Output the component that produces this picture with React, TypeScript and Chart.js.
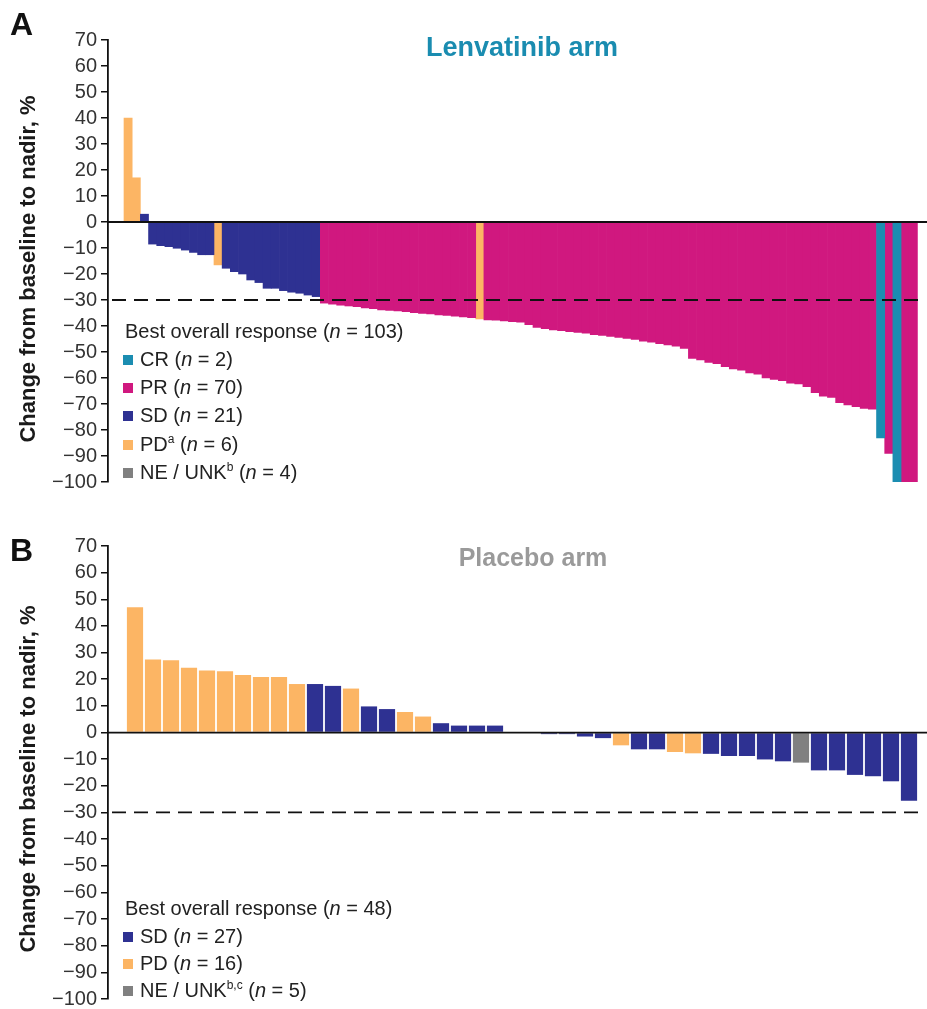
import React, { useEffect, useRef } from 'react';
import { Chart, registerables } from 'chart.js';

Chart.register(...registerables);

const FONT = "'Liberation Sans', Arial, Helvetica, sans-serif";

// ---------- shared ----------
const yTicks = [70, 60, 50, 40, 30, 20, 10, 0, -10, -20, -30, -40, -50, -60, -70, -80, -90, -100];
const yAxisTitle = 'Change from baseline to nadir, %';
const responseThreshold = -30;
const responseCodes = ['CR', 'PR', 'SD', 'PD', 'NE'];
const responseNames = ['CR', 'PR', 'SD', 'PD', 'NE / UNK'];
const responseColors = ['#1b8db1', '#d0187f', '#2e3192', '#fcb564', '#808080'];

// ---------- Panel A: Lenvatinib arm ----------
const lenvResponse = [
  'PD', 'PD', 'SD', 'SD', 'SD', 'SD', 'SD', 'SD', 'SD', 'SD', 'SD', 'PD',
  'SD', 'SD', 'SD', 'SD', 'SD', 'SD', 'SD', 'SD', 'SD', 'SD', 'SD', 'SD',
  'PR', 'PR', 'PR', 'PR', 'PR', 'PR', 'PR', 'PR', 'PR', 'PR', 'PR', 'PR', 'PR', 'PR', 'PR', 'PR', 'PR', 'PR', 'PR',
  'PD',
  'PR', 'PR', 'PR', 'PR', 'PR', 'PR', 'PR', 'PR', 'PR', 'PR', 'PR', 'PR', 'PR', 'PR', 'PR', 'PR', 'PR', 'PR', 'PR', 'PR', 'PR', 'PR', 'PR', 'PR', 'PR',
  'PR', 'PR', 'PR', 'PR', 'PR', 'PR', 'PR', 'PR', 'PR', 'PR', 'PR', 'PR', 'PR', 'PR', 'PR', 'PR', 'PR', 'PR', 'PR', 'PR', 'PR', 'PR', 'PR',
  'CR', 'PR', 'CR', 'PR', 'PR',
];
const lenvChange = [
  40, 17, 3, -8.5, -9.1, -9.5, -10.1, -10.8, -11.7, -12.6, -12.6, -16.5,
  -17.8, -19.1, -20, -22.3, -23.3, -25.5, -25.5, -26.4, -27, -27.4, -28.1, -28.7,
  -31.2, -31.6, -32, -32.3, -32.6, -33, -33.3, -33.8, -34, -34.2, -34.5, -34.9, -35.2, -35.4, -35.7, -35.9, -36.2, -36.5, -36.8,
  -37.3,
  -37.7, -37.8, -38, -38.3, -38.5, -39.5, -40.5, -41, -41.5, -41.8, -42.2, -42.5, -42.8, -43.3, -43.6, -44, -44.4, -44.8, -45.2, -45.8, -46.2, -46.8, -47.3, -47.8, -48.6,
  -52.5, -53, -54, -54.5, -55.6, -56.5, -57, -58, -58.5, -60, -60.5, -61, -62, -62.3, -63.3, -65.6, -67, -67.5, -69.5, -70.4, -71, -71.7, -72,
  -83, -89, -100, -100, -100,
];
const lenvLegendCodes = ['CR', 'PR', 'SD', 'PD', 'NE'];
const lenvLegendCounts = [2, 70, 21, 6, 4];
const lenvLegendNotes = ['', '', '', 'a', 'b'];
const lenvTotal = 103;

// ---------- Panel B: Placebo arm ----------
const placeboResponse = [
  'PD', 'PD', 'PD', 'PD', 'PD', 'PD', 'PD', 'PD', 'PD', 'PD',
  'SD', 'SD', 'PD', 'SD', 'SD', 'PD', 'PD',
  'SD', 'SD', 'SD', 'SD', 'SD', 'SD', 'SD', 'SD', 'SD', 'SD',
  'PD', 'SD', 'SD', 'PD', 'PD',
  'SD', 'SD', 'SD', 'SD', 'SD', 'NE',
  'SD', 'SD', 'SD', 'SD', 'SD', 'SD',
];
const placeboChange = [
  47, 27.4, 27.1, 24.3, 23.3, 23, 21.6, 20.8, 20.8, 18.2,
  18.2, 17.5, 16.5, 9.8, 8.8, 7.7, 6,
  3.5, 2.6, 2.6, 2.6, 0, 0, -0.6, -0.6, -1.5, -2.1,
  -4.8, -6.3, -6.3, -7.3, -7.8,
  -8, -8.8, -8.8, -10.1, -10.8, -11.3,
  -14.2, -14.2, -15.9, -16.4, -18.3, -25.6,
];
const placeboLegendCodes = ['SD', 'PD', 'NE'];
const placeboLegendCounts = [27, 16, 5];
const placeboLegendNotes = ['', '', 'b,c'];
const placeboTotal = 48;

// ---------- chart helpers ----------
const refLinesPlugin = {
  id: 'refLines',
  afterDatasetsDraw(chart: any) {
    const { ctx, chartArea, scales } = chart;
    const y = scales.y;
    ctx.save();
    ctx.strokeStyle = '#111';
    ctx.lineWidth = 1.8;
    const y0 = y.getPixelForValue(0);
    ctx.beginPath();
    ctx.moveTo(chartArea.left, y0);
    ctx.lineTo(chartArea.right, y0);
    ctx.stroke();
    const yd = y.getPixelForValue(responseThreshold);
    ctx.setLineDash([14, 8]);
    ctx.beginPath();
    ctx.moveTo(chartArea.left + 4, yd);
    ctx.lineTo(chartArea.right - 5, yd);
    ctx.stroke();
    ctx.restore();
  },
};

function buildDatasets(values: number[], responses: string[], barPct: number, inflate: any) {
  return responseCodes.map((code, k) => ({
    label: responseNames[k],
    data: values
      .map((v, i) => (responses[i] === code ? { x: i, y: v } : null))
      .filter((p) => p !== null),
    backgroundColor: responseColors[k],
    borderWidth: 0,
    grouped: false,
    barPercentage: barPct,
    categoryPercentage: 1,
    inflateAmount: inflate,
  }));
}

type PanelProps = {
  top: number;
  height: number;
  padTop: number;
  padBottom: number;
  values: number[];
  responses: string[];
  xMin: number;
  xMax: number;
  barPct: number;
  inflate: any;
};

function PanelChart(p: PanelProps) {
  const ref = useRef<HTMLCanvasElement | null>(null);
  useEffect(() => {
    if (!ref.current) return;
    const chart = new Chart(ref.current, {
      type: 'bar',
      data: { datasets: buildDatasets(p.values, p.responses, p.barPct, p.inflate) as any },
      options: {
        animation: false,
        responsive: false,
        maintainAspectRatio: false,
        devicePixelRatio: 1,
        layout: { padding: { top: p.padTop, bottom: p.padBottom, left: 0, right: 0 } },
        plugins: {
          legend: { display: false },
          tooltip: { enabled: false },
          title: { display: false },
        },
        scales: {
          x: {
            type: 'linear',
            min: p.xMin,
            max: p.xMax,
            offset: false,
            display: false,
            grid: { offset: false },
            ticks: { stepSize: 50 },
          },
          y: {
            type: 'linear',
            min: -100,
            max: 70,
            afterFit: (s: any) => {
              s.width = 108;
            },
            afterBuildTicks: (s: any) => {
              s.ticks = yTicks.map((v) => ({ value: v }));
            },
            ticks: {
              autoSkip: false,
              padding: 4,
              color: '#333',
              font: { family: FONT, size: 20, lineHeight: 0.6 },
              callback: (v: any) => String(v).replace('-', '\u2212'),
            },
            grid: {
              drawOnChartArea: false,
              drawTicks: true,
              tickLength: 7,
              color: '#111',
              lineWidth: 1.5,
            },
            border: { display: true, color: '#111', width: 1.8 },
            title: { display: false },
          },
        },
      } as any,
      plugins: [refLinesPlugin],
    });
    return () => chart.destroy();
  }, []);
  return (
    <canvas
      ref={ref}
      width={927}
      height={p.height}
      style={{ position: 'absolute', left: 0, top: p.top, width: 927, height: p.height }}
    />
  );
}

function Txt(props: { x: number; baseline: number; size: number; bold?: boolean; color?: string; center?: boolean; children: any }) {
  const top = props.baseline - 0.8465 * props.size;
  const style: any = {
    position: 'absolute',
    top,
    fontFamily: FONT,
    fontSize: props.size,
    lineHeight: props.size + 'px',
    fontWeight: props.bold ? 'bold' : 'normal',
    color: props.color || '#222',
    whiteSpace: 'nowrap',
  };
  if (props.center) {
    style.left = props.x - 300;
    style.width = 600;
    style.textAlign = 'center';
  } else {
    style.left = props.x;
  }
  return <div style={style}>{props.children}</div>;
}

function VerticalTitle(props: { cx: number; cy: number; text: string }) {
  return (
    <div
      style={{
        position: 'absolute',
        left: props.cx - 200,
        top: props.cy - 13,
        width: 400,
        height: 26,
        lineHeight: '26px',
        textAlign: 'center',
        fontFamily: FONT,
        fontSize: 22,
        fontWeight: 'bold',
        color: '#1a1a1a',
        whiteSpace: 'nowrap',
        transform: 'rotate(-90deg)',
        transformOrigin: '50% 50%',
      }}
    >
      {props.text}
    </div>
  );
}

function Legend(props: { baselines: number[]; total: number; codes: string[]; counts: number[]; notes: string[] }) {
  const b = props.baselines;
  return (
    <>
      <Txt x={125} baseline={b[0]} size={20}>
        Best overall response (<i>n</i> = {props.total})
      </Txt>
      {props.codes.map((code, k) => {
        const idx = responseCodes.indexOf(code);
        const base = b[k + 1];
        return (
          <React.Fragment key={code}>
            <div
              style={{
                position: 'absolute',
                left: 123,
                top: base - 11,
                width: 10,
                height: 10,
                background: responseColors[idx],
              }}
            />
            <Txt x={140} baseline={base} size={20}>
              {responseNames[idx]}
              {props.notes[k] ? (
                <span style={{ fontSize: 12, position: 'relative', top: -8 }}>{props.notes[k]}</span>
              ) : null}{' '}
              (<i>n</i> = {props.counts[k]})
            </Txt>
          </React.Fragment>
        );
      })}
    </>
  );
}

export default function App() {
  return (
    <div
      style={{
        position: 'absolute',
        left: 0,
        top: 0,
        width: 927,
        height: 1009,
        overflow: 'hidden',
        background: '#fff',
      }}
    >
      <PanelChart
        top={0}
        height={504}
        padTop={40}
        padBottom={22}
        values={lenvChange}
        responses={lenvResponse}
        xMin={-2.456}
        xMax={97.67}
        barPct={1}
        inflate={'auto'}
      />
      <PanelChart
        top={504}
        height={505}
        padTop={42}
        padBottom={9}
        values={placeboChange}
        responses={placeboResponse}
        xMin={-1.5}
        xMax={44}
        barPct={0.9}
        inflate={0}
      />
      <VerticalTitle cx={28} cy={269} text={yAxisTitle} />
      <VerticalTitle cx={28} cy={779} text={yAxisTitle} />
      <Txt x={10} baseline={35} size={32} bold color="#111">A</Txt>
      <Txt x={10} baseline={561} size={32} bold color="#111">B</Txt>
      <Txt x={522} baseline={57} size={27} bold color="#1a8cb0" center>Lenvatinib arm</Txt>
      <Txt x={533} baseline={566} size={25} bold color="#9a9a9a" center>Placebo arm</Txt>
      <Legend
        baselines={[338, 366, 394, 422, 451, 479]}
        total={lenvTotal}
        codes={lenvLegendCodes}
        counts={lenvLegendCounts}
        notes={lenvLegendNotes}
      />
      <Legend
        baselines={[915, 943, 970, 997]}
        total={placeboTotal}
        codes={placeboLegendCodes}
        counts={placeboLegendCounts}
        notes={placeboLegendNotes}
      />
    </div>
  );
}
